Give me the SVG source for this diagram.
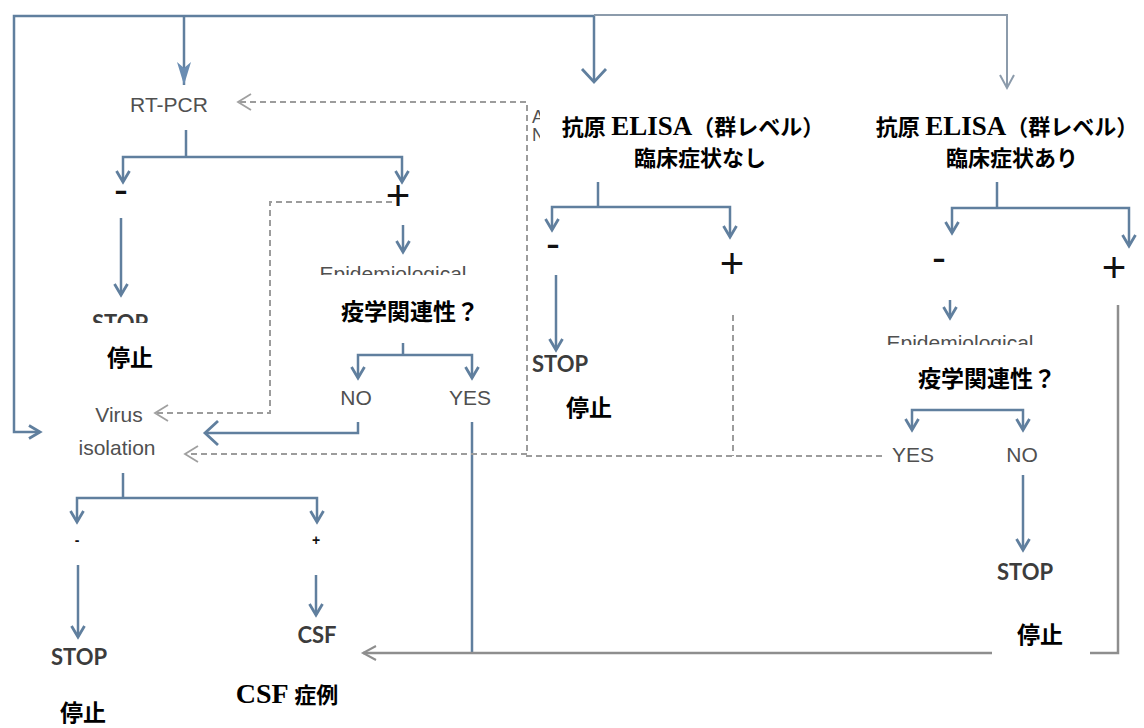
<svg xmlns="http://www.w3.org/2000/svg" width="1144" height="728" viewBox="0 0 1144 728">
<style>
.ln{fill:none;stroke:#607f9e;stroke-width:2.5}
.lt{fill:none;stroke:#8c9bab;stroke-width:2}
.lg{fill:none;stroke:#8e8e8e;stroke-width:2.5}
.ds{fill:none;stroke:#9c9c9c;stroke-width:2;stroke-dasharray:6 4}
.en{font-family:"Liberation Sans",Arial,sans-serif;font-size:21px;fill:#505050;text-anchor:middle}
.st{font-family:Lato,"Liberation Sans",sans-serif;font-weight:700;font-size:22px;fill:#3c3c3c;text-anchor:middle}
.sg{font-family:"Liberation Sans",Arial,sans-serif;font-size:42px;fill:#111;text-anchor:middle}
.jp{font-family:"Noto Sans CJK JP",sans-serif;font-weight:700;font-size:23px;fill:#000;text-anchor:middle}
.el{font-family:"Liberation Serif","Noto Sans CJK JP",serif;font-weight:700;font-size:22px;fill:#000;text-anchor:middle}
.la{font-family:"Liberation Serif",serif;font-size:27px}
.wb{fill:#fff}
</style>
<defs>
<marker id="stl" markerUnits="userSpaceOnUse" orient="auto" overflow="visible" refX="0" refY="0" markerWidth="24" markerHeight="16">
<path d="M-23,-7 L0,0 L-23,7 L-17,0 z" fill="#6a8db3"/>
</marker>
<marker id="chv" markerUnits="userSpaceOnUse" orient="auto" overflow="visible" refX="0" refY="0" markerWidth="14" markerHeight="16">
<path d="M-11,-6.5 L0,0 L-11,6.5" fill="none" stroke="#607f9e" stroke-width="2.8"/>
</marker>
<marker id="chw" markerUnits="userSpaceOnUse" orient="auto" overflow="visible" refX="0" refY="0" markerWidth="16" markerHeight="26">
<path d="M-13,-12 L0,0 L-13,12" fill="none" stroke="#607f9e" stroke-width="2.8"/>
</marker>
<marker id="cht" markerUnits="userSpaceOnUse" orient="auto" overflow="visible" refX="0" refY="0" markerWidth="16" markerHeight="18">
<path d="M-13,-7 L0,0 L-13,7" fill="none" stroke="#8c9bab" stroke-width="2"/>
</marker>
<marker id="chg" markerUnits="userSpaceOnUse" orient="auto" overflow="visible" refX="0" refY="0" markerWidth="16" markerHeight="18">
<path d="M-13,-7 L0,0 L-13,7" fill="none" stroke="#8e8e8e" stroke-width="2"/>
</marker>
<marker id="chd" markerUnits="userSpaceOnUse" orient="auto" overflow="visible" refX="0" refY="0" markerWidth="16" markerHeight="18">
<path d="M-13,-8 L0,0 L-13,8" fill="none" stroke="#a0a0a0" stroke-width="1.8"/>
</marker>
</defs>

<g id="connectors">
<path class="ln" d="M594,16 L14,16 L14,432 L40,432" marker-end="url(#chv)"/>
<path class="ln" d="M184,16 L184,85" marker-end="url(#stl)"/>
<path class="ln" d="M594,16 L594,82" marker-end="url(#chw)"/>
<path class="lt" d="M594,15 L1007,15 L1007,88" marker-end="url(#cht)"/>

<path class="ln" d="M186,130 L186,157"/>
<path class="ln" d="M186,157 L123,157 L123,182" marker-end="url(#chv)"/>
<path class="ln" d="M186,157 L402,157 L402,182" marker-end="url(#chv)"/>
<path class="ln" d="M121,218 L121,295" marker-end="url(#chv)"/>
<path class="ln" d="M403,225 L403,252" marker-end="url(#chv)"/>

<path class="ln" d="M403,343 L403,355"/>
<path class="ln" d="M403,355 L358,355 L358,378" marker-end="url(#chv)"/>
<path class="ln" d="M403,355 L472,355 L472,378" marker-end="url(#chv)"/>
<path class="ln" d="M358,422 L358,433 L205,433" marker-end="url(#chw)"/>
<path class="ln" d="M472,422 L472,653"/>
<path class="lg" d="M1118,305 L1118,653 L363,653" marker-end="url(#chg)"/>

<path class="ln" d="M123,473 L123,498"/>
<path class="ln" d="M123,498 L77,498 L77,522" marker-end="url(#chv)"/>
<path class="ln" d="M123,498 L317,498 L317,522" marker-end="url(#chv)"/>
<path class="ln" d="M78,565 L78,637" marker-end="url(#chv)"/>
<path class="ln" d="M316,575 L316,615" marker-end="url(#chv)"/>

<path class="ln" d="M598,182 L598,207"/>
<path class="ln" d="M598,207 L552,207 L552,230" marker-end="url(#chv)"/>
<path class="ln" d="M598,207 L730,207 L730,237" marker-end="url(#chv)"/>
<path class="ln" d="M556,275 L556,350" marker-end="url(#chv)"/>

<path class="ln" d="M997,182 L997,208"/>
<path class="ln" d="M997,208 L952,208 L952,233" marker-end="url(#chv)"/>
<path class="ln" d="M997,208 L1129,208 L1129,246" marker-end="url(#chv)"/>
<path class="ln" d="M950,300 L950,318" marker-end="url(#chv)"/>
<path class="ln" d="M967,410 L912,410 L912,430" marker-end="url(#chv)"/>
<path class="ln" d="M967,410 L1023,410 L1023,430" marker-end="url(#chv)"/>
<path class="ln" d="M1023,475 L1023,550" marker-end="url(#chv)"/>

<path class="ds" d="M882,456 L527,456 L527,102 L238,102" marker-end="url(#chd)"/>
<path class="ds" d="M527,454 L185,454" marker-end="url(#chd)"/>
<path class="ds" d="M733,315 L733,456"/>
<path class="ds" d="M392,202 L270,202 L270,413 L155,413" marker-end="url(#chd)"/>
</g>

<g id="rtpcr">
<text class="en" x="169" y="112">RT-PCR</text>
<text class="sg" x="121" y="204">-</text>
<text class="sg" x="398" y="210">+</text>
</g>

<g id="stop1">
<text class="st" x="120" y="331">STOP</text>
<rect class="wb" x="80" y="323" width="175" height="60"/>
<text class="jp" x="130" y="366">停止</text>
</g>

<g id="epi1">
<text class="en" x="393" y="281">Epidemiological</text>
<rect class="wb" x="305" y="275" width="180" height="67"/>
<text class="jp" x="410" y="320">疫学関連性？</text>
</g>

<g id="no1"><text class="en" x="356" y="405">NO</text></g>
<g id="yes1"><text class="en" x="470" y="405">YES</text></g>

<g id="virus">
<text class="en" x="119" y="422">Virus</text>
<text class="en" x="117" y="455">isolation</text>
<text class="sg" x="77" y="545" style="font-size:14px;font-weight:700">-</text>
<text class="sg" x="316" y="545" style="font-size:14px;font-weight:700">+</text>
</g>

<g id="stop2">
<text class="st" x="79" y="665">STOP</text>
<text class="jp" x="83" y="721">停止</text>
</g>

<g id="csf">
<text class="st" x="317" y="643">CSF</text>
<text class="el" x="287" y="703"><tspan class="la" style="font-size:28px">CSF</tspan> 症例</text>
</g>

<g id="elisa1">
<text class="en" x="532" y="123" style="text-anchor:start;font-size:18px">A</text>
<text class="en" x="532" y="141" style="text-anchor:start;font-size:18px">N</text>
<rect class="wb" x="540" y="98" width="262" height="82"/>
<text class="el" x="693" y="135">抗原 <tspan class="la">ELISA</tspan>（群レベル）</text>
<text class="jp" x="700" y="166" style="font-size:22px">臨床症状なし</text>
<text class="sg" x="553" y="258">-</text>
<text class="sg" x="732" y="278">+</text>
</g>

<g id="stop3">
<text class="st" x="560" y="372">STOP</text>
<text class="jp" x="589" y="416">停止</text>
</g>

<g id="elisa2">
<rect class="wb" x="870" y="97" width="274" height="83"/>
<text class="el" x="1007" y="135">抗原 <tspan class="la">ELISA</tspan>（群レベル）</text>
<text class="jp" x="1012" y="166" style="font-size:22px">臨床症状あり</text>
<text class="sg" x="939" y="272">-</text>
<text class="sg" x="1114" y="282">+</text>
</g>

<g id="epi2">
<text class="en" x="960" y="350">Epidemiological</text>
<rect class="wb" x="878" y="345" width="172" height="62"/>
<text class="jp" x="987" y="387">疫学関連性？</text>
</g>

<g id="yes2"><text class="en" x="913" y="462">YES</text></g>
<g id="no2"><text class="en" x="1022" y="462">NO</text></g>

<g id="stop4">
<text class="st" x="1025" y="580">STOP</text>
<rect class="wb" x="992" y="600" width="98" height="62"/>
<text class="jp" x="1040" y="643">停止</text>
</g>
</svg>
